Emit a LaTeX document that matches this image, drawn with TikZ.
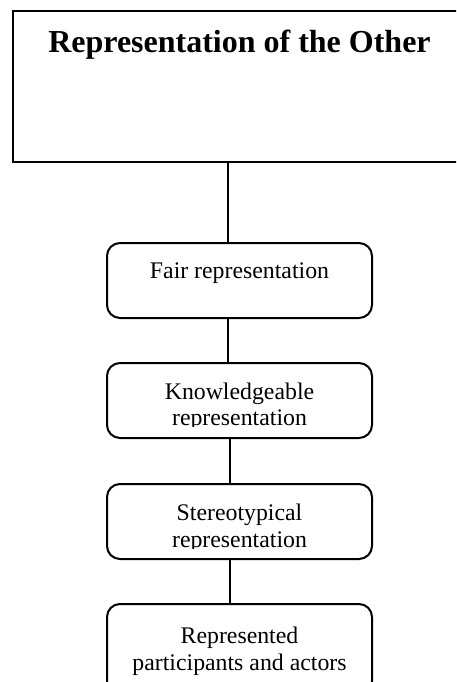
\documentclass[tikz,border=0pt]{standalone}
\usepackage{fontspec}
\setmainfont{Liberation Serif}
\begin{document}
\begin{tikzpicture}[x=1pt,y=-1pt,
  boxline/.style={line width=2pt},
  topbox/.style={boxline, draw, rectangle, minimum width=453pt, minimum height=151pt, inner sep=0pt},
  stagebox/.style={boxline, draw, rectangle, rounded corners=13pt, minimum width=265pt, minimum height=75pt, inner sep=0pt},
  titletext/.style={anchor=base, inner sep=0pt, font=\fontsize{32}{37}\selectfont\bfseries},
  bodytext/.style={anchor=base, inner sep=0pt, font=\fontsize{23.8}{27}\selectfont},
  link/.style={line width=2pt}]
\clip (0,0) rectangle (456,682);
\fill[white] (0,0) rectangle (456,682);
% boxes
\node[topbox] (top) at (239.5,86.5) {};
\node[stagebox] (fair) at (239.5,280.5) {};
\node[stagebox] (know) at (239.5,400.5) {};
\node[stagebox] (stereo) at (239.5,521.5) {};
\node[stagebox, minimum height=90pt] (repr) at (239.5,649) {};
% texts
\node[titletext] (title) at (239.5,53) {Representation of the Other};
\node[bodytext] (fairtxt) at (239.5,278) {Fair representation};
\begin{scope}
  \clip (100,363) rectangle (380,426);
  \node[bodytext] (know1) at (239.5,399) {Knowledgeable};
  \node[bodytext] (know2) at (239.5,425.5) {representation};
\end{scope}
\begin{scope}
  \clip (100,484) rectangle (380,548);
  \node[bodytext] (stereo1) at (239.5,520.5) {Stereotypical};
  \node[bodytext] (stereo2) at (239.5,547) {representation};
\end{scope}
\node[bodytext] (repr1) at (239.5,643) {Represented};
\node[bodytext] (repr2) at (239.5,670) {participants and actors};
% connectors
\draw[link] ([xshift=-11.5pt]top.south) -- ([xshift=-11.5pt]fair.north);
\draw[link] ([xshift=-11.5pt]fair.south) -- ([xshift=-11.5pt]know.north);
\draw[link] ([xshift=-9.5pt]know.south) -- ([xshift=-9.5pt]stereo.north);
\draw[link] ([xshift=-9.5pt]stereo.south) -- ([xshift=-9.5pt]repr.north);
\end{tikzpicture}
\end{document}
